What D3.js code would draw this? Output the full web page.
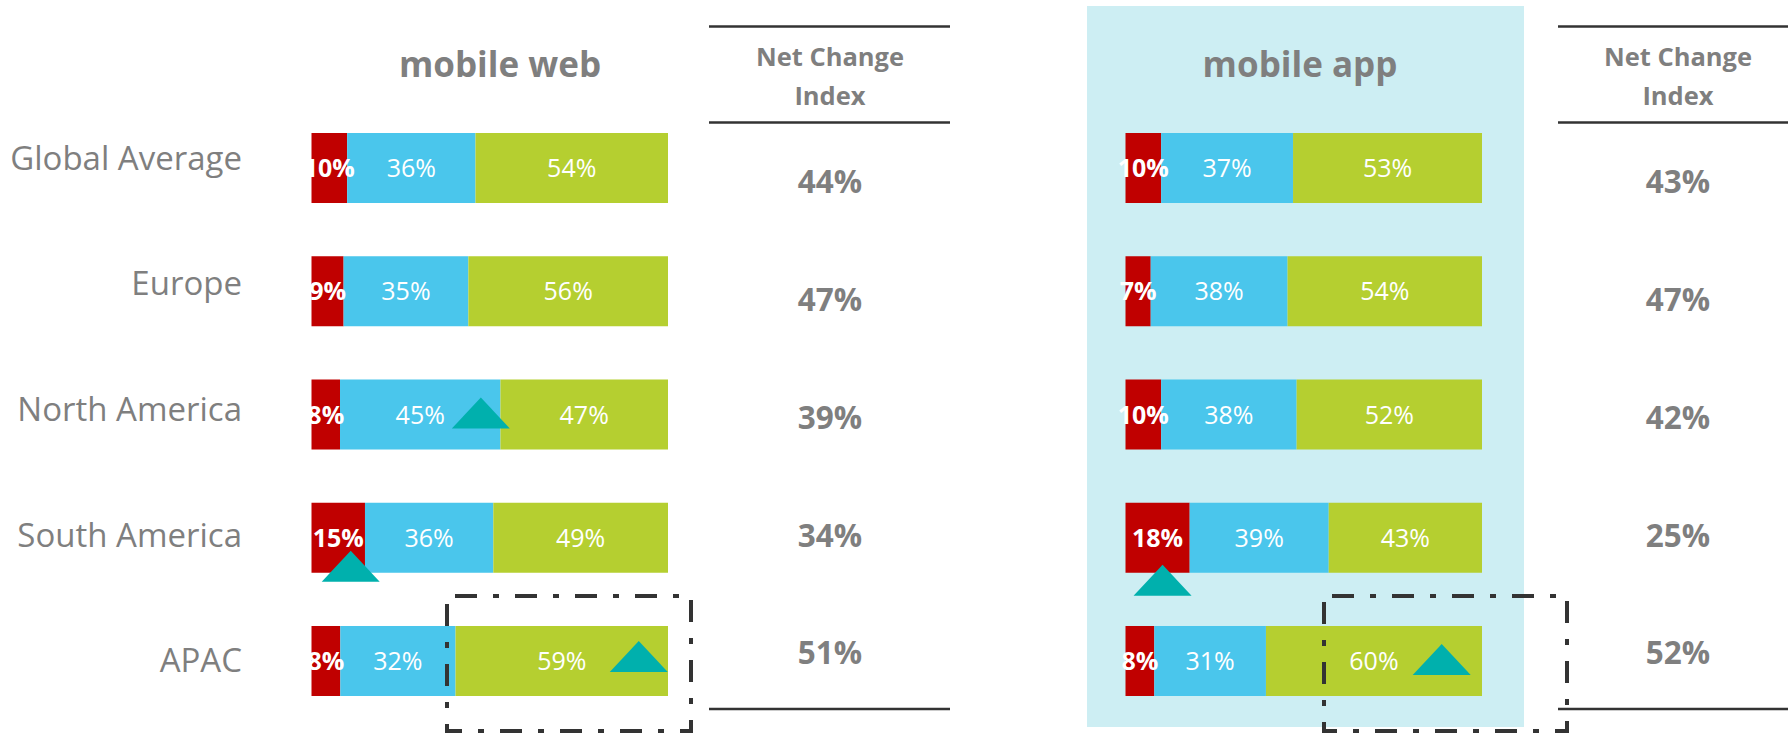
<!DOCTYPE html>
<html>
<head>
<meta charset="utf-8">
<script src="https://cdn.jsdelivr.net/npm/d3@7"></script>
<style>
  body { margin: 0; background: #fff; }
  text { font-family: "Open Sans", sans-serif; }
</style>
</head>
<body>
<script>
var w = 1788;
var h = 735;

// data
var regions = ['Global Average', 'Europe', 'North America', 'South America', 'APAC'];
var keys = ['neg', 'neutral', 'pos'];

var webNeg     = [10, 9, 8, 15, 8];
var webNeutral = [36, 35, 45, 36, 32];
var webPos     = [54, 56, 47, 49, 59];
var webIndex   = [44, 47, 39, 34, 51];

var appNeg     = [10, 7, 10, 18, 8];
var appNeutral = [37, 38, 38, 39, 31];
var appPos     = [53, 54, 52, 43, 60];
var appIndex   = [43, 47, 42, 25, 52];

// up-arrow markers: region, position along the bar (%), offset below bar centre
var webMarks = [['North America', 47.5, 14], ['South America', 11, 44], ['APAC', 91.8, 11]];
var appMarks = [['South America', 10.4, 58], ['APAC', 88.7, 14]];

var colors = d3.scaleOrdinal().domain(keys).range(['#c00000', '#4ac6ec', '#b5cf30']);
var grey = '#7f7f7f';

var svg = d3.select('body')
            .append('svg')
            .attr('width', w)
            .attr('height', h);

// light panel behind mobile app
svg.append('rect')
   .attr('x', 1087).attr('y', 6)
   .attr('width', 437).attr('height', 721)
   .attr('fill', '#cdeef3');

var y = d3.scaleBand()
          .domain(regions)
          .range([133, 696])
          .paddingInner(0.432)
          .paddingOuter(0);

var labelY = d3.scalePoint().domain(regions).range([158.5, 661]);
var indexY = d3.scalePoint().domain(regions).range([182, 653]);

// region labels
svg.append('g').selectAll('text')
   .data(regions)
   .enter()
   .append('text')
   .attr('x', 242)
   .attr('y', function(d) { return labelY(d); })
   .attr('dy', '0.34em')
   .attr('text-anchor', 'end')
   .attr('font-size', 33)
   .attr('fill', grey)
   .text(function(d) { return d; });

function panel(title, titleX, x0, x1, neg, neutral, pos, marks) {
    var rows = regions.map(function(r, i) {
        return {region: r, neg: neg[i], neutral: neutral[i], pos: pos[i]};
    });
    var series = d3.stack().keys(keys).offset(d3.stackOffsetExpand)(rows);
    var x = d3.scaleLinear().domain([0, 1]).range([x0, x1]);

    svg.append('text')
       .attr('x', titleX).attr('y', 77)
       .attr('text-anchor', 'middle')
       .attr('font-size', 35)
       .attr('font-weight', 'bold')
       .attr('fill', grey)
       .text(title);

    var g = svg.append('g');
    var layers = g.selectAll('g')
                  .data(series)
                  .enter()
                  .append('g')
                  .attr('fill', function(d) { return colors(d.key); });

    layers.selectAll('rect')
          .data(function(d) { return d; })
          .enter()
          .append('rect')
          .attr('x', function(d) { return x(d[0]); })
          .attr('width', function(d) { return x(d[1]) - x(d[0]); })
          .attr('y', function(d) { return y(d.data.region); })
          .attr('height', y.bandwidth());

    series.forEach(function(s) {
        g.append('g').selectAll('text')
         .data(s)
         .enter()
         .append('text')
         .attr('x', function(d) { return (x(d[0]) + x(d[1])) / 2; })
         .attr('y', function(d) { return y(d.data.region) + y.bandwidth() / 2; })
         .attr('dy', '0.36em')
         .attr('text-anchor', 'middle')
         .attr('font-size', 25)
         .attr('font-weight', s.key == 'neg' ? 'bold' : 'normal')
         .attr('fill', 'white')
         .text(function(d) { return d.data[s.key] + '%'; });
    });

    var mx = d3.scaleLinear().domain([0, 100]).range([x0, x1]);
    g.append('g').selectAll('path')
     .data(marks)
     .enter()
     .append('path')
     .attr('fill', '#00b0ad')
     .attr('d', function(d) {
         var cx = mx(d[1]);
         var base = y(d[0]) + y.bandwidth() / 2 + d[2];
         return 'M' + (cx - 29) + ',' + base + 'L' + cx + ',' + (base - 31) + 'L' + (cx + 29) + ',' + base + 'Z';
     });
}

panel('mobile web', 500, 311.5, 668, webNeg, webNeutral, webPos, webMarks);
panel('mobile app', 1300, 1125.5, 1482, appNeg, appNeutral, appPos, appMarks);

function indexColumn(cx, x0, x1, vals) {
    var g = svg.append('g');
    [26.5, 122.5, 709].forEach(function(ly) {
        g.append('line')
         .attr('x1', x0).attr('x2', x1)
         .attr('y1', ly).attr('y2', ly)
         .attr('stroke', '#333')
         .attr('stroke-width', 2.5);
    });
    g.append('text')
     .attr('x', cx).attr('y', 66)
     .attr('text-anchor', 'middle')
     .attr('font-size', 25.5)
     .attr('font-weight', 'bold')
     .attr('fill', grey)
     .text('Net Change');
    g.append('text')
     .attr('x', cx).attr('y', 105)
     .attr('text-anchor', 'middle')
     .attr('font-size', 25.5)
     .attr('font-weight', 'bold')
     .attr('fill', grey)
     .text('Index');
    g.selectAll('text.idx')
     .data(vals)
     .enter()
     .append('text')
     .attr('class', 'idx')
     .attr('x', cx)
     .attr('y', function(d, i) { return indexY(regions[i]); })
     .attr('dy', '0.36em')
     .attr('text-anchor', 'middle')
     .attr('font-size', 31.5)
     .attr('font-weight', 'bold')
     .attr('fill', grey)
     .text(function(d) { return d + '%'; });
}

indexColumn(830, 709, 950, webIndex);
indexColumn(1678, 1558, 1788, appIndex);

// dash-dot highlight boxes round APAC
[[447, 691], [1324, 1567]].forEach(function(b) {
    svg.append('rect')
       .attr('x', b[0]).attr('y', 596)
       .attr('width', b[1] - b[0]).attr('height', 135)
       .attr('fill', 'none')
       .attr('stroke', '#333')
       .attr('stroke-width', 4)
       .attr('stroke-dasharray', '22,16,6,16')
       .attr('stroke-dashoffset', -8);
});
</script>
</body>
</html>
